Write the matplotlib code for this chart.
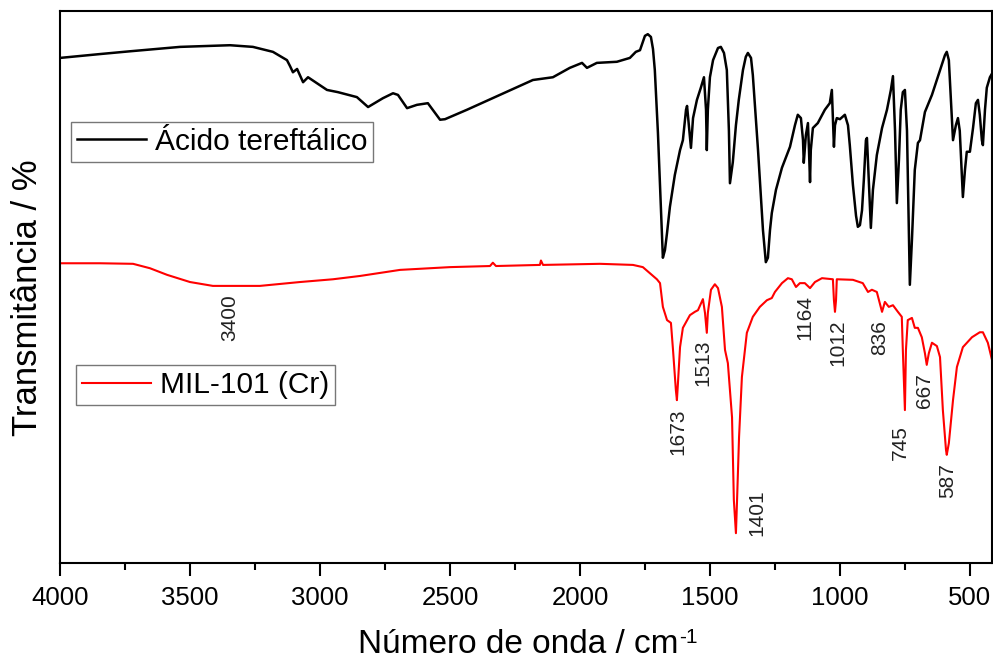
import matplotlib
matplotlib.use("Agg")
import matplotlib.pyplot as plt
from matplotlib.ticker import MultipleLocator

plt.rcParams['font.family'] = ['Liberation Sans', 'DejaVu Sans']

# espectro do ácido tereftálico (número de onda, transmitância)
acido_wn = [4000, 3846, 3731, 3538, 3346, 3258, 3181, 3127, 3115, 3104, 3088, 3065, 3046,
            2973, 2931, 2858, 2815, 2758, 2719, 2700, 2665, 2627, 2585, 2538, 2519, 2435,
            2308, 2181, 2104, 2039, 1992, 1973, 1935, 1858, 1808, 1785, 1769, 1750, 1739,
            1727, 1719, 1712, 1700, 1688, 1681, 1673, 1665, 1654, 1635, 1615, 1604, 1592,
            1588, 1581, 1573, 1565, 1550, 1535, 1523, 1515, 1512, 1508, 1500, 1488, 1469,
            1458, 1446, 1435, 1427, 1423, 1412, 1400, 1389, 1373, 1362, 1354, 1342, 1335,
            1323, 1315, 1296, 1285, 1277, 1269, 1262, 1246, 1223, 1192, 1173, 1162, 1150,
            1142, 1139, 1131, 1123, 1119, 1115, 1112, 1104, 1085, 1058, 1039, 1031, 1027,
            1023, 1019, 1012, 1000, 981, 969, 962, 950, 938, 931, 923, 915, 908, 900, 896,
            889, 881, 873, 858, 838, 819, 804, 796, 788, 781, 773, 766, 758, 750, 742, 735,
            731, 723, 712, 700, 692, 673, 646, 615, 596, 589, 581, 573, 565, 554, 546, 539,
            531, 527, 519, 512, 500, 488, 477, 469, 462, 454, 450, 442, 435, 423, 412]
acido_t = [91.5, 92.2, 92.7, 93.5, 93.8, 93.5, 92.6, 91.1, 90.0, 88.9, 89.5, 87.1, 88.0,
           85.7, 85.3, 84.4, 82.6, 84.2, 85.1, 84.8, 82.4, 83.0, 83.3, 80.3, 80.4, 82.1,
           84.8, 87.5, 88.0, 89.7, 90.6, 89.7, 90.6, 90.8, 91.5, 92.6, 92.9, 95.5, 95.8,
           95.3, 93.1, 89.3, 77.9, 63.9, 55.3, 56.7, 59.8, 64.5, 70.3, 74.8, 76.6, 82.1,
           82.8, 79.3, 75.2, 80.6, 83.9, 86.1, 88.0, 82.1, 74.8, 82.1, 88.0, 91.1, 93.3,
           93.5, 92.4, 89.3, 78.3, 68.8, 72.6, 79.3, 83.9, 89.3, 91.7, 92.4, 91.5, 88.4,
           80.3, 74.8, 60.3, 54.5, 55.3, 60.3, 63.4, 67.6, 71.6, 75.4, 79.3, 81.2, 80.6,
           76.6, 72.5, 77.5, 79.7, 74.8, 69.0, 74.8, 78.8, 79.7, 82.1, 83.3, 85.7, 80.3,
           75.4, 79.3, 80.6, 80.4, 81.2, 79.3, 75.7, 68.5, 62.9, 60.9, 61.2, 63.9, 69.4, 76.6, 77.0,
           69.4, 60.7, 67.6, 73.9, 78.8, 82.1, 85.7, 88.2, 78.3, 65.2, 73.0, 82.1, 85.3, 85.7, 78.3, 60.3,
           50.4, 58.5, 71.2, 76.1, 76.6, 81.7, 84.8, 89.3, 92.0, 92.6, 91.1, 83.9, 76.6, 79.3, 80.6, 78.3,
           70.3, 66.3, 71.2, 74.5, 74.5, 78.8, 83.3, 83.9, 81.2, 76.6, 75.7, 82.1, 86.1, 88.0, 88.9]

# espectro do MIL-101 (Cr)
mil_wn = [4000, 3846, 3719, 3654, 3588, 3500, 3412, 3308, 3231, 3077, 2950, 2846, 2692,
          2500, 2346, 2335, 2323, 2154, 2150, 2142, 1923, 1796, 1758, 1731, 1704, 1692,
          1681, 1665, 1650, 1642, 1631, 1627, 1623, 1615, 1604, 1577, 1558, 1546, 1527,
          1519, 1512, 1508, 1496, 1481, 1469, 1454, 1442, 1431, 1415, 1408, 1400, 1396,
          1388, 1377, 1358, 1335, 1308, 1281, 1262, 1250, 1223, 1200, 1185, 1169, 1154,
          1135, 1115, 1096, 1069, 1027, 1023, 1019, 1015, 1012, 950, 912, 892, 877, 858,
          838, 827, 812, 796, 777, 762, 758, 750, 746, 739, 723, 712, 700, 685, 673, 666,
          658, 646, 627, 615, 604, 592, 589, 581, 565, 550, 527, 492, 462, 450, 431, 415]
mil_t = [54.3, 54.3, 54.2, 53.4, 52.2, 50.9, 50.2, 50.2, 50.2, 50.9, 51.4, 52.0, 53.1,
         53.6, 53.8, 54.4, 53.8, 54.0, 54.8, 54.0, 54.2, 54.0, 53.6, 52.5, 51.4, 50.7,
         46.4, 44.0, 43.5, 38.6, 31.3, 29.5, 32.6, 39.1, 42.6, 44.9, 45.5, 45.8, 47.8,
         45.3, 41.7, 45.3, 49.5, 50.5, 49.8, 46.4, 38.6, 36.2, 26.4, 11.4, 5.4, 10.9,
         22.8, 33.7, 41.7, 44.6, 46.4, 47.6, 48.0, 49.1, 50.7, 51.6, 51.4, 50.0, 50.7,
         50.7, 49.8, 50.9, 51.6, 51.4, 47.6, 45.5, 47.6, 51.4, 51.3, 50.7, 49.1, 49.5, 49.1,
         45.5, 47.3, 46.4, 46.7, 45.5, 44.6, 38.6, 27.7, 38.6, 44.0, 44.4, 42.6, 42.6, 40.9, 38.0, 35.9,
         38.0, 39.9, 39.3, 37.3, 27.7, 20.5, 19.6, 21.7, 29.5, 35.5, 39.1, 40.9, 41.8, 41.8, 39.9, 36.8]

# bandas marcadas no MIL-101 (Cr)
bandas = ["3400", "1673", "1513", "1401", "1164", "1012", "836", "745", "667", "587"]
bandas_x = [3346, 1623, 1527, 1319, 1135, 1008, 846, 769, 673, 585]
bandas_y = [44.4, 23.7, 36.2, 9.1, 44.4, 39.9, 40.9, 21.9, 31.3, 15.0]

fig = plt.figure(figsize=(9.93, 6.71), dpi=100)
ax = fig.add_axes([60 / 993, 108 / 671, 932 / 993, 552 / 671])

l1, = ax.plot(acido_wn, acido_t, color="black", lw=1.8, label="Ácido tereftálico")
l2, = ax.plot(mil_wn, mil_t, color="#ff0000", lw=1.5, label="MIL-101 (Cr)")

for txt, x, y in zip(bandas, bandas_x, bandas_y):
    ax.text(x, y, txt, rotation=90, ha="center", va="center", fontsize=15, color="#222222")

ax.set_xlim(4000, 415)
ax.set_ylim(0, 100)
ax.xaxis.set_major_locator(MultipleLocator(500))
ax.xaxis.set_minor_locator(MultipleLocator(250))
ax.tick_params(axis="x", which="major", direction="out", length=9, width=1.5, labelsize=18.5, pad=7.5)
ax.tick_params(axis="x", which="minor", direction="out", length=5, width=1.5)
ax.set_yticks([])
for s in ax.spines.values():
    s.set_linewidth(1.5)

ax.set_xlabel("Número de onda / cm", fontsize=24)
ax.xaxis.set_label_coords(0.4914, -0.1196)
ax.annotate("-1", xy=(1, 1), xycoords=ax.xaxis.label, xytext=(1, 1), textcoords="offset points",
            ha="left", va="top", fontsize=15)
ax.set_ylabel("Transmitância / %", fontsize=25)
ax.yaxis.set_label_coords(-0.0172, 0.48)

leg_kw = dict(fontsize=21.5, frameon=True, fancybox=False, edgecolor="#777777", framealpha=1,
              borderpad=0.2, handlelength=2.3, handletextpad=0.3, borderaxespad=0, loc="upper left")
leg1 = ax.legend(handles=[l1], bbox_to_anchor=(0.0118, 0.799), **leg_kw)
leg1.get_frame().set_linewidth(1.0)
ax.add_artist(leg1)
leg2 = ax.legend(handles=[l2], bbox_to_anchor=(0.0172, 0.3587), **leg_kw)
leg2.get_frame().set_linewidth(1.0)

fig.savefig("out.png", dpi=100)
